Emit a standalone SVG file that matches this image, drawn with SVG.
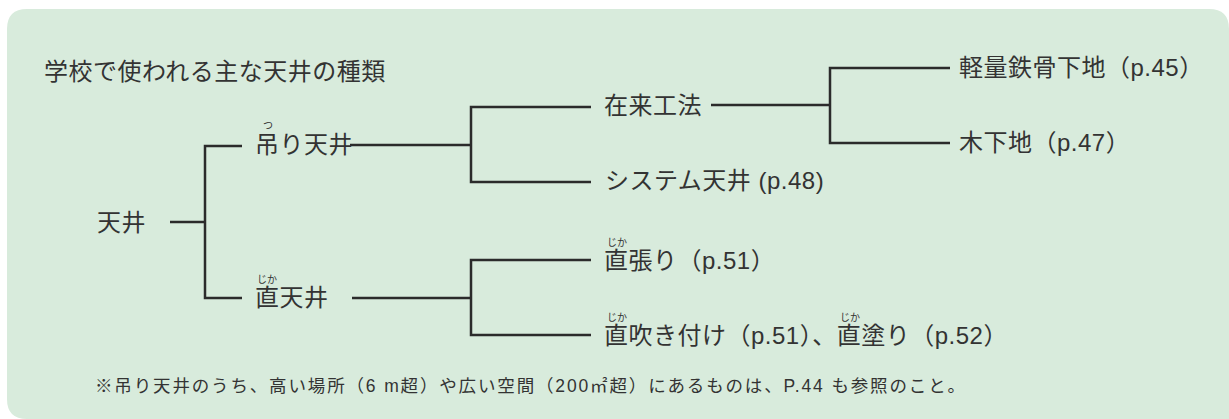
<svg xmlns="http://www.w3.org/2000/svg" width="1229" height="419" viewBox="0 0 1229 419">
<style>
text{font-family:"Liberation Sans","Noto Sans CJK JP",sans-serif;fill:#333333}
.t{font-size:24px;letter-spacing:0.5px}
.r{font-size:10px}
.f{font-size:17.5px}
.c path{fill:none;stroke:#2b2b2b;stroke-width:2.5}
</style>
<path d="M27,9 H1209 Q1229,9 1229,29 V419 H27 Q7,419 7,399 V29 Q7,9 27,9 Z" fill="#d8ebdc"/>
<text id="title" class="t" x="44" y="80">学校で使われる主な天井の種類</text>
<g class="c" id="connectors">
<path d="M170,222 H205"/>
<path d="M242,146 H205 V298 H242"/>
<path d="M350,145 H471"/>
<path d="M591,107 H471 V182 H591"/>
<path d="M711,105 H830"/>
<path d="M950,68 H830 V143 H950"/>
<path d="M352,298 H471"/>
<path d="M591,260 H471 V335 H591"/>
</g>
<g id="n-tenjo"><text class="t" x="97" y="231">天井</text></g>
<g id="n-tsuri"><text class="r" x="263" y="129">つ</text><text class="t" x="255" y="153">吊り天井</text></g>
<g id="n-jika"><text class="r" x="257" y="283">じか</text><text class="t" x="255" y="306">直天井</text></g>
<g id="n-zairai"><text class="t" x="604" y="114">在来工法</text></g>
<g id="n-system"><text class="t" x="605" y="189">システム天井 (p.48)</text></g>
<g id="n-keiryo"><text class="t" x="959" y="76">軽量鉄骨下地（p.45）</text></g>
<g id="n-moku"><text class="t" x="959" y="151">木下地（p.47）</text></g>
<g id="n-jikabari"><text class="r" x="607" y="246">じか</text><text class="t" x="604" y="269">直張り（p.51）</text></g>
<g id="n-jikafuki"><text class="r" x="607" y="321">じか</text><text class="r" x="840" y="321">じか</text><text class="t" x="604" y="344">直吹き付け（p.51）、直塗り（p.52）</text></g>
<text id="note" class="f" x="95" y="392" textLength="870" lengthAdjust="spacing">※吊り天井のうち、高い場所（6 m超）や広い空間（200㎡超）にあるものは、P.44 も参照のこと。</text>
</svg>
